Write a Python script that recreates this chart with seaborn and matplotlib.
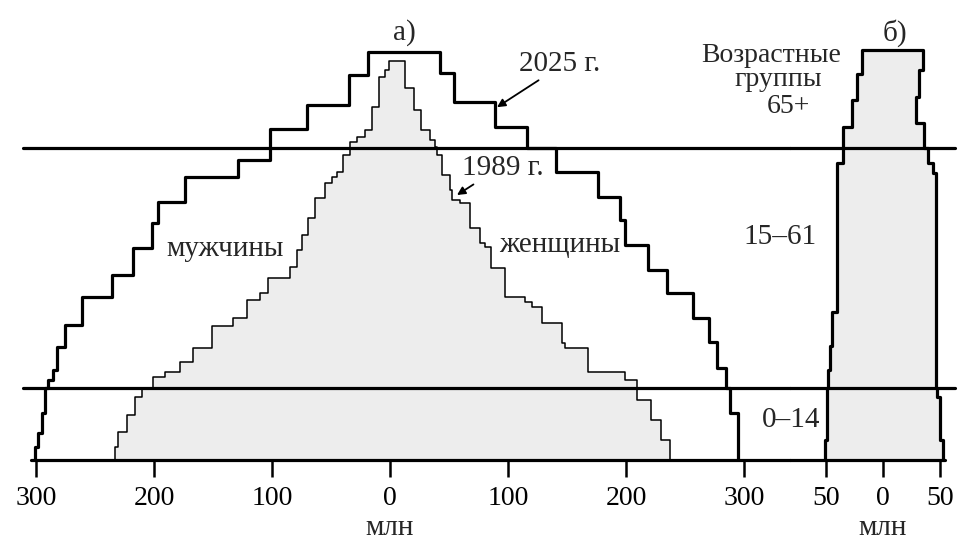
import numpy as np
import matplotlib
matplotlib.use("Agg")
import matplotlib.pyplot as plt
import seaborn as sns

sns.set_style("white")
plt.rcParams['font.family'] = ['Liberation Serif', 'DejaVu Serif']

# а) мир: границы возрастных групп (лет) и численность (млн)
age_2025_m = [0, 2.7, 5.6, 9.8, 15, 16.7, 18.75, 23.5, 28.1, 34, 38.5, 44.2, 49.4, 53.75,
              59, 62.5, 69, 74, 80.2, 85]
pop_2025_m = [301, 298, 295, 292, 290, 286, 282, 275, 261, 236, 218, 202, 197, 174,
              129, 102, 70, 35, 19]
age_2025_f = [0, 9.8, 15, 19.2, 24.6, 29.6, 34.8, 39.6, 44.8, 50, 54.8, 60, 65, 69.4,
              74.6, 80.6, 85]
pop_2025_f = [295, 288, 285, 277, 270, 257, 235, 219, 199, 195, 176, 141, 116, 89, 54, 42]

age_1989_m = [0, 2.7, 5.8, 9.4, 13.1, 15, 17.3, 18.3, 20.4, 23.3, 27.9, 29.6, 33.3, 34.8,
              37.9, 40.2, 43.75, 46.9, 50.4, 54.6, 57.7, 59, 60, 63.5, 66.25, 67.3, 68.75,
              73.5, 79.8, 81.25, 83.1]
pop_1989_m = [233, 230.5, 223, 216, 210, 201, 191, 178, 167, 151, 133, 121, 110, 103,
              85, 79, 74.5, 69.5, 63.5, 55, 49, 45, 40, 34, 28, 21, 15, 9, 4, 1]
age_1989_f = [0, 4.2, 8.3, 12.5, 16.7, 18.3, 23.3, 24.4, 28.5, 31.9, 32.9, 34, 40, 44.4,
              45.2, 48.3, 53.5, 54.2, 56.25, 59.4, 63.5, 65.2, 66.7, 68.75, 72.9, 77.5, 83.1]
pop_1989_f = [237, 230, 221, 209, 199, 168, 148, 146, 129, 120, 114, 97.5, 86, 80.5,
              76, 68, 59, 52.5, 51, 44, 40, 38, 34, 26, 20, 12.7]

# б) возрастные группы
age_b_m = [0, 4.2, 15, 18.75, 23.75, 30.8, 61.9, 69.4, 75, 80.4, 85.4]
pop_b_m = [51, 49, 48, 46.5, 44.7, 40.4, 35, 27, 23, 18.4]
age_b_f = [0, 4.2, 13.1, 15, 59.8, 61.9, 65, 70.2, 75.6, 81.25, 85.4]
pop_b_f = [52.6, 50, 47.4, 46.5, 44, 39.5, 36, 29, 31.6, 35]

group_bounds = [15, 65]
ticks_a = [-300, -200, -100, 0, 100, 200, 300]
ticks_b = [-50, 0, 50]


def outline(age_m, pop_m, age_f, pop_f):
    ym = np.repeat(age_m, 2)[1:-1]
    xm = -np.repeat(pop_m, 2)
    yf = np.repeat(age_f, 2)[1:-1][::-1]
    xf = np.repeat(pop_f, 2)[::-1]
    return np.r_[xm, xf], np.r_[ym, yf]


fig = plt.figure(figsize=(9.6, 5.44), dpi=100)
ax = fig.add_axes([0.02396, 0.15441, 0.79896, 0.79044])
bx = fig.add_axes([0.82292, 0.15441, 0.171875, 0.79044])
bx.set_facecolor('none')
ymax = 89.58
ax.set_xlim(-311.0, 339.0)
bx.set_xlim(-81.6, 63.2)

GREY = '#ededed'
THICK = 2.3

# 1989 г. (заливка + тонкий контур)
x89, y89 = outline(age_1989_m, pop_1989_m, age_1989_f, pop_1989_f)
ax.fill(x89, y89, color=GREY, lw=0, zorder=1)
sns.lineplot(x=x89, y=y89, sort=False, estimator=None, color='black', lw=1.1, ax=ax, zorder=2)

# 2025 г. (толстый контур)
x25, y25 = outline(age_2025_m, pop_2025_m, age_2025_f, pop_2025_f)
sns.lineplot(x=x25, y=y25, sort=False, estimator=None, color='black', lw=THICK, ax=ax, zorder=3)

# б)
xb, yb = outline(age_b_m, pop_b_m, age_b_f, pop_b_f)
bx.fill(xb, yb, color=GREY, lw=0, zorder=1)
sns.lineplot(x=xb, y=yb, sort=False, estimator=None, color='black', lw=THICK, ax=bx, zorder=3)

for a in (ax, bx):
    a.set_ylim(0, ymax)
    a.set_xlabel('')
    a.set_ylabel('')
    a.set_yticks([])
    for s in a.spines.values():
        s.set_visible(False)
    a.tick_params(axis='x', direction='out', length=12, width=1.8, pad=7,
                  labelsize=20, colors='black', bottom=True)
    for g in group_bounds:
        a.axhline(g, color='black', lw=THICK, zorder=4, clip_on=False)

ax.axhline(0, xmin=0.01, xmax=1, color='black', lw=THICK, zorder=4, clip_on=False)
bx.axhline(0, xmin=0, xmax=0.94, color='black', lw=THICK, zorder=4, clip_on=False)

ax.set_xticks(ticks_a)
ax.set_xticklabels([str(abs(t)) for t in ticks_a])
bx.set_xticks(ticks_b)
bx.set_xticklabels([str(abs(t)) for t in ticks_b])

fs = 21
ax.text(0, -14.2, 'млн', ha='center', va='center', fontsize=fs)
bx.text(0, -14.2, 'млн', ha='center', va='center', fontsize=fs)
ax.text(11.9, 89, 'а)', ha='center', va='center', fontsize=fs)
bx.text(10.5, 89, 'б)', ha='center', va='center', fontsize=fs)
ax.text(-139.8, 44, 'мужчины', ha='center', va='center', fontsize=fs)
ax.text(144, 44.8, 'женщины', ha='center', va='center', fontsize=fs)
ax.text(322.9, 84.2, 'Возрастные', ha='center', va='center', fontsize=20)
ax.text(328.8, 79.2, 'группы', ha='center', va='center', fontsize=20)
ax.text(337.3, 73.6, '65+', ha='center', va='center', fontsize=20)
ax.text(330.5, 46.5, '15–61', ha='center', va='center', fontsize=fs)
ax.text(339.8, 8.3, '0–14', ha='center', va='center', fontsize=fs)

arrow = dict(arrowstyle='-|>', color='black', lw=1.3, mutation_scale=12, shrinkA=0, shrinkB=0)
ax.annotate('2025 г.', xy=(90.7, 73.5), xytext=(144, 82.5), ha='center', va='center',
            fontsize=fs, arrowprops=dict(arrow, relpos=(0.3, 0.0)))
ax.annotate('1989 г.', xy=(56.8, 55.2), xytext=(95.8, 60.8), ha='center', va='center',
            fontsize=fs, arrowprops=dict(arrow, relpos=(0.2, 0.0)))

fig.savefig('out.png', dpi=100, facecolor='white')
